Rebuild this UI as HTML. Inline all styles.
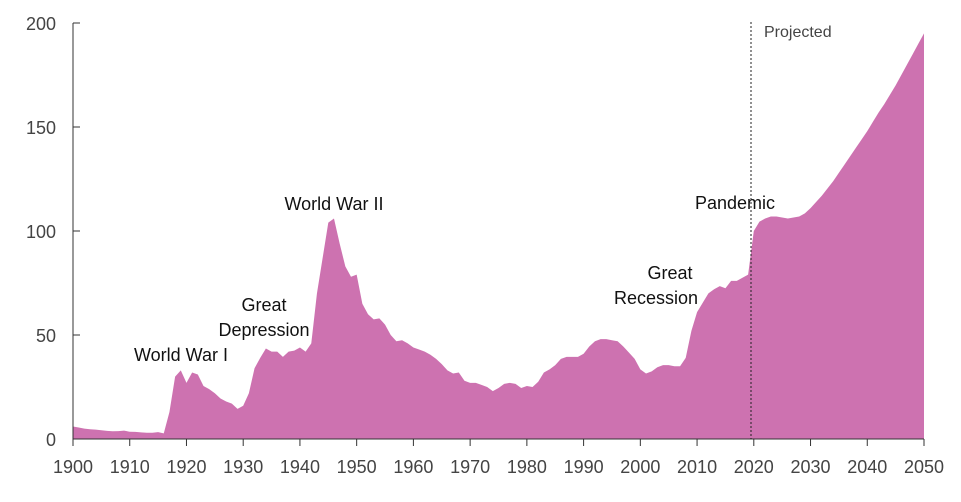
<!DOCTYPE html>
<html><head><meta charset="utf-8"><style>
body{margin:0;background:#fff;}
svg{display:block;font-family:"Liberation Sans",sans-serif;}
</style></head><body>
<svg id="chart" width="961" height="502"></svg>
<script>
const startYear = 1900;
const values = [6,5.5,5,4.7,4.5,4.2,3.9,3.7,3.8,4,3.5,3.4,3.2,3,3,3.3,2.7,13,30,33,27,32,31,25.5,24,22,19.5,18,17,14.5,16,22,34,39,43.5,42,42,39.5,42,42.5,44,42,46,70,87,104,106,94,83,78,79,65,60,57.5,58,55,50,47,47.5,46,44,43,42,40.5,38.5,36,33,31.5,32,28,27,27,26,25,23,24.5,26.5,27,26.5,24.5,25.5,25,27.5,32,33.5,35.5,38.5,39.5,39.5,39.5,41,44.5,47,48,48,47.5,47,44.5,41.5,38.5,33.5,31.5,32.5,34.5,35.5,35.5,35,35,39,52,61,65.5,70,72,73.5,72.5,76,76,77.5,79,100,104.5,106,107,107,106.5,106,106.5,107,108.5,111,114,117,120.5,124,128,132,136,140,144,148,152.5,157,161,165.5,170,175,180,185,190,195];
const yTicks = [0,50,100,150,200];
const xTicks = [1900,1910,1920,1930,1940,1950,1960,1970,1980,1990,2000,2010,2020,2030,2040,2050];
const annotations = [
 {text:"World War I", x:181, y:361},
 {text:"Great", x:264, y:311},
 {text:"Depression", x:264, y:336},
 {text:"World War II", x:334, y:210},
 {text:"Great", x:670, y:279},
 {text:"Recession", x:656, y:304},
 {text:"Pandemic", x:735, y:209}
];
const NS="http://www.w3.org/2000/svg";
const svg=document.getElementById('chart');
const x0=73,x1=924,y0=439,y1=23;
function X(yr){return x0+(yr-1900)/150*(x1-x0);}
function Y(v){return y0-v/200*(y0-y1);}
function mk(t,a){const e=document.createElementNS(NS,t);for(const k in a)e.setAttribute(k,a[k]);svg.appendChild(e);return e;}
let d=`M${X(startYear)},${Y(0)}`;
values.forEach((v,i)=>{d+=` L${X(startYear+i)},${Y(v)}`;});
d+=` L${X(startYear+values.length-1)},${Y(0)} Z`;
const area=mk('path',{d:d,fill:'#cd72b0'});


const ya=mk('line',{x1:x0,y1:y1,x2:x0,y2:y0,stroke:'#333','stroke-width':1});


const xa=mk('line',{x1:x0,y1:y0,x2:x1,y2:y0,stroke:'#333','stroke-width':1});


yTicks.forEach(v=>{
 mk('line',{x1:x0,y1:Y(v),x2:x0+7,y2:Y(v),stroke:'#333'});
 const t=mk('text',{x:56,y:Y(v)+7,'text-anchor':'end','font-size':18,fill:'#444'});
 t.textContent=v;
 
 
});
xTicks.forEach(v=>{
 mk('line',{x1:X(v),y1:y0,x2:X(v),y2:y0+7,stroke:'#333'});
 const t=mk('text',{x:X(v),y:473,'text-anchor':'middle','font-size':18,fill:'#444'});
 t.textContent=v;
 
 
});
const dl=mk('line',{x1:751,y1:22,x2:751,y2:y0,stroke:'#222','stroke-dasharray':'2,2','stroke-width':1});


const pt=mk('text',{x:764,y:37,'font-size':16,fill:'#444'});
pt.textContent='Projected';


annotations.forEach(a=>{
 const t=mk('text',{x:a.x,y:a.y,'text-anchor':'middle','font-size':18,fill:'#111'});
 t.textContent=a.text;
 
 
});
</script>
</body></html>
